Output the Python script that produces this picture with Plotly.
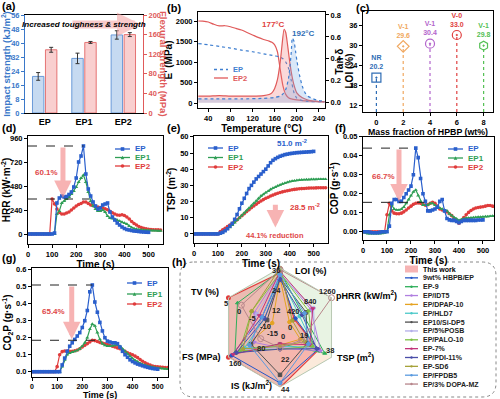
import math
import plotly.graph_objects as go

W, H = 500, 399
def X(p): return p / W
def Y(p): return 1 - p / H

FONT = "Liberation Sans, Arial, Helvetica, sans-serif"
C_EP = "#2a5fcc"
C_EP1 = "#2f9e55"
C_EP2 = "#e03c3c"
ARROW = "rgba(244,140,140,0.65)"

# ---------------- (a) mechanical
samples = ["EP", "EP1", "EP2"]
impact_strength = [20.9, 31.2, 44.6]
impact_err = [2.2, 3.0, 2.4]
flexural_strength = [129, 144, 160]
flexural_err = [5, 2, 4]

# ---------------- (b) DMA
T_storage_EP2 = [22, 30, 40, 50, 60, 70, 80, 90, 100, 110, 120, 130, 140, 150, 155, 160, 165, 170, 175, 180, 185, 190, 200, 210, 220, 230, 240, 250]
storage_EP2 = [2000, 1995, 1975, 1920, 1880, 1885, 1860, 1820, 1780, 1720, 1660, 1600, 1550, 1510, 1480, 1420, 1250, 820, 420, 210, 130, 100, 75, 60, 50, 42, 36, 32]
T_storage_EP = [22, 40, 60, 80, 100, 120, 140, 160, 170, 175, 180, 185, 190, 195, 200, 210, 220, 240, 250]
storage_EP = [1450, 1420, 1380, 1340, 1290, 1250, 1200, 1150, 1120, 1080, 1000, 850, 550, 250, 120, 60, 40, 30, 28]
T_tan_EP2 = [22, 40, 60, 80, 100, 120, 140, 150, 155, 160, 165, 170, 173, 177, 180, 183, 186, 190, 195, 200, 210, 220, 230, 240, 250]
tan_EP2 = [0.06, 0.06, 0.065, 0.06, 0.06, 0.06, 0.065, 0.075, 0.09, 0.13, 0.21, 0.37, 0.51, 0.67, 0.64, 0.54, 0.42, 0.28, 0.16, 0.09, 0.045, 0.025, 0.015, 0.01, 0.008]
T_tan_EP = [22, 60, 100, 140, 160, 170, 175, 180, 185, 188, 190, 192, 195, 198, 200, 205, 210, 215, 220, 230, 240, 250]
tan_EP = [0.035, 0.035, 0.035, 0.04, 0.048, 0.06, 0.08, 0.12, 0.22, 0.35, 0.46, 0.59, 0.56, 0.46, 0.39, 0.25, 0.15, 0.09, 0.06, 0.035, 0.02, 0.015]

# ---------------- (c) LOI / UL-94
hpbp_fraction = [0, 2, 4, 6, 8]
loi_values = [20.2, 29.6, 30.4, 33.0, 29.8]
ul94_rating = ["NR", "V-1", "V-1", "V-0", "V-1"]
loi_colors = ["#2f6db5", "#f0a860", "#b366cc", "#e04040", "#55c055"]
loi_symbols = ["square-open-dot", "diamond-open-dot", "circle-open-dot", "circle-open-dot", "hexagon-open-dot"]

# ---------------- cone calorimeter (10 s sampling)
t_EP = list(range(0, 510, 10))
t_long = list(range(0, 560, 10))

HRR_EP = [0]*11 + [10, 310, 360, 380, 370, 375, 395, 420, 470, 560, 720, 780, 880, 600, 450, 380, 320, 280, 250, 260,
                   290, 300, 310, 220, 170, 140, 110, 90, 70, 55, 45, 40, 35, 30, 28, 25, 22, 20, 18, 17]
HRR_EP1 = [0]*12 + [200, 230, 310, 330, 350, 370, 400, 430, 470, 520, 560, 590, 520, 420, 330, 280, 250, 230, 230, 240,
                    220, 180, 160, 155, 150, 140, 130, 120, 110, 100, 80, 65, 55, 50, 45, 42, 40, 38, 36, 35, 34, 33, 32, 32]
HRR_EP2 = [0]*10 + [350, 300, 250, 215, 200, 200, 210, 220, 240, 260, 280, 295, 305, 320, 320, 305, 290, 282, 276, 270,
                    265, 260, 252, 242, 228, 212, 200, 190, 188, 192, 185, 170, 150, 125, 105, 90, 75, 65, 58, 52,
                    48, 45, 43, 42, 41, 40]

TSP_EP = [0]*11 + [0.5, 1, 2, 3.2, 4.8, 6.5, 9, 12, 15.5, 19, 22, 25, 28, 30, 32, 34, 35.5, 37, 38.5, 40,
                   42, 44, 45.5, 46.5, 47.3, 48, 48.5, 49, 49.3, 49.6, 49.8, 50, 50.2, 50.3, 50.4, 50.5, 50.6, 50.7, 50.8, 51.0]
TSP_EP1 = [0]*12 + [1, 2, 3, 4, 5.5, 7, 8.5, 10, 11.5, 13, 14.5, 16, 17.5, 19, 20.5, 22, 23.5, 24.5, 25.5, 26.5,
                    27.5, 28.3, 29, 29.7, 30.3, 30.9, 31.4, 31.9, 32.3, 32.6, 32.9, 33.1, 33.3, 33.4, 33.5, 33.6,
                    33.6, 33.7, 33.7, 33.7, 33.8, 33.8, 33.8, 33.8]
TSP_EP2 = [0]*11 + [1.5, 2.5, 3.5, 4.5, 5.5, 6.5, 7.5, 8.7, 10, 11.2, 12.5, 13.8, 15, 16.2, 17.3, 18.4, 19.4, 20.3, 21.2, 22,
                    22.7, 23.4, 24, 24.6, 25.1, 25.6, 26, 26.4, 26.7, 27, 27.3, 27.5, 27.7, 27.9, 28, 28.1, 28.2, 28.3,
                    28.35, 28.4, 28.45, 28.5, 28.5, 28.5, 28.5]

COP_EP = [0, 0, 0, -0.0003, -0.0005, -0.0005, -0.0005, -0.0003, 0, 0, 0,
          0.003, 0.015, 0.017, 0.017, 0.016, 0.016, 0.018, 0.02, 0.022, 0.024, 0.03, 0.044, 0.039, 0.028, 0.02, 0.016,
          0.011, 0.011, 0.0115, 0.012, 0.013, 0.016, 0.017, 0.011, 0.007, 0.0063, 0.006, 0.006, 0.0055, 0.0048,
          0.0055, 0.006, 0.006, 0.006, 0.006, 0.006, 0.006, 0.0062, 0.0062, 0.0063]
COP_EP1 = [0, -0.0005, -0.001, -0.001, -0.001, -0.001, -0.001, -0.001, -0.0008, -0.0005, 0,
           0.009, 0.014, 0.012, 0.0115, 0.0115, 0.012, 0.013, 0.015, 0.017, 0.019, 0.021, 0.022, 0.019, 0.016, 0.014,
           0.014, 0.014, 0.015, 0.015, 0.014, 0.013, 0.0125, 0.012, 0.0115, 0.011, 0.0095, 0.0085, 0.0075, 0.0068,
           0.006, 0.0065, 0.007, 0.0072, 0.0073, 0.0074, 0.0075, 0.0076, 0.0077, 0.0078, 0.0079, 0.008, 0.008,
           0.0082, 0.0083, 0.0084]
COP_EP2 = [0]*10 + [0.009, 0.015, 0.011, 0.0098, 0.0095, 0.0095, 0.0098, 0.0105, 0.0115, 0.0125, 0.0135, 0.0145, 0.015,
                    0.0152, 0.015, 0.0145, 0.014, 0.0142, 0.015, 0.0155, 0.015, 0.0135, 0.012, 0.0115, 0.011, 0.0105,
                    0.0095, 0.0085, 0.007, 0.0055, 0.0045, 0.006, 0.0075, 0.009, 0.0102, 0.0112, 0.012, 0.0125,
                    0.0128, 0.013, 0.0132, 0.0135, 0.0138, 0.0138, 0.0135, 0.0132]

CO2P_EP = [0]*12 + [0.04, 0.08, 0.12, 0.15, 0.17, 0.19, 0.21, 0.23, 0.26, 0.3, 0.36, 0.47, 0.51, 0.41, 0.35, 0.29, 0.24,
                    0.2, 0.18, 0.175, 0.17, 0.17, 0.165, 0.145, 0.12, 0.1, 0.085, 0.07, 0.06, 0.052, 0.045, 0.04,
                    0.035, 0.03, 0.026, 0.022, 0.019, 0.017, 0.015]
CO2P_EP1 = [0]*12 + [0.03, 0.07, 0.1, 0.11, 0.115, 0.12, 0.125, 0.135, 0.15, 0.17, 0.2, 0.25, 0.28, 0.27, 0.23, 0.19,
                     0.165, 0.155, 0.15, 0.15, 0.152, 0.155, 0.158, 0.15, 0.135, 0.12, 0.105, 0.09, 0.078, 0.067,
                     0.058, 0.05, 0.044, 0.039, 0.034, 0.03, 0.027, 0.024, 0.022, 0.02, 0.018, 0.017, 0.015, 0.014]
CO2P_EP2 = [0]*10 + [0.03, 0.1, 0.118, 0.122, 0.122, 0.12, 0.12, 0.123, 0.128, 0.135, 0.145, 0.155, 0.165, 0.175,
                     0.185, 0.183, 0.178, 0.172, 0.168, 0.164, 0.16, 0.155, 0.15, 0.145, 0.14, 0.135, 0.128, 0.12,
                     0.112, 0.105, 0.1, 0.092, 0.083, 0.072, 0.062, 0.053, 0.045, 0.039, 0.034, 0.031, 0.029,
                     0.027, 0.026, 0.025, 0.024, 0.023]

# ---------------- (h) radar
radar_axes = ["LOI", "pHRR", "TSP", "IS", "FS", "TV"]
radar_titles = ["LOI (%)", "pHRR (kW/m<sup>2</sup>)", "TSP (m<sup>2</sup>)", "IS (kJ/m<sup>2</sup>)", "FS (MPa)", "TV (%)"]
radar_lo = [0, 0, 0, 0, 0, -15]
radar_hi = [36, 1260, 38, 44, 160, 5]
radar_ticks = [[12, 24, 36], [0, 420, 840, 1260], [0, 19, 38], [22, 44], [80, 160], [-15, -10, -5, 0, 5]]
radar_names = ["This work", "9wt% HBPB/EP", "EP-9", "EP/IDT5", "EP/DPAP-10", "EP/HLD7", "EP10/Si-DP5",
               "EP/5%POSB", "EP/PALO-10", "EP-7%", "EP/PDI-11%", "EP-SD6", "EP/FPDB5", "EP/3% DOPA-MZ"]
radar_colors = ["#e23b3b", "#2456c8", "#2fae5a", "#b07fe0", "#e5a321", "#4cc9c9", "#505050",
                "#b3aee8", "#7cc043", "#c2337a", "#4a4ea8", "#a6a23a", "#5b9be0", "#b7868b"]
radar_symbols = ["circle", "circle", "triangle-up", "triangle-down", "circle", "circle", "square",
                 "circle", "triangle-up", "triangle-down", "diamond", "circle", "diamond", "circle-open"]
radar_values = [
    [33.0, 351, 28.5, 44.5, 160, 5],
    [31.0, 380, 28.0, 41.0, 150, -8],
    [34.0, 560, 33.0, 12.0, 140, 1.5],
    [33.0, 760, 30.0, 15.0, 80, -5],
    [30.0, 230, 15.0, 13.0, 120, -12],
    [31.0, 480, 25.0, 14.0, 110, -9],
    [30.0, 640, 20.0, 35.0, 90, -10],
    [32.0, 820, 26.0, 15.0, 120, -6],
    [33.0, 700, 24.0, 16.0, 125, -4],
    [34.0, 800, 22.0, 12.0, 145, -7],
    [29.0, 540, 27.0, 16.0, 135, -9],
    [36.0, 300, 18.0, 14.0, 115, -4],
    [32.0, 600, 21.0, 41.0, 95, -8],
    [35.0, 1260, 16.0, 15.0, 60, 0],
]

fig = go.Figure()
shapes = []
ann = []

def tfont(size=7.5, color="black"):
    return dict(family=FONT, size=size, color=color, weight="bold")

def pann(xp, yp, text, font, xanchor="center", **kw):
    d = dict(x=X(xp), y=Y(yp), xref="paper", yref="paper", text=text, showarrow=False, font=font,
             xanchor=xanchor, yanchor="middle")
    d.update(kw)
    ann.append(d)

def axis(**kw):
    d = dict(showline=True, linecolor="black", linewidth=1, mirror=True, ticks="outside", ticklen=3,
             tickwidth=1, tickcolor="black", showgrid=False, zeroline=False, tickfont=tfont(),
             automargin=False)
    d.update(kw)
    return d

def title(text, size=10, color="black", standoff=None):
    t = dict(text=text, font=tfont(size, color))
    if standoff is not None:
        t["standoff"] = standoff
    return t

# ---------- (a)
fig.add_trace(go.Bar(x=samples, y=impact_strength, xaxis="x", yaxis="y", offset=-0.31, width=0.29,
                     marker=dict(color="#c6daf1", line=dict(color="#6a9ad8", width=1)),
                     error_y=dict(type="data", array=impact_err, color="#333", thickness=1, width=2),
                     showlegend=False))
fig.add_trace(go.Bar(x=samples, y=flexural_strength, xaxis="x", yaxis="y2", offset=0.02, width=0.29,
                     marker=dict(color="#f9cfcf", line=dict(color="#e57373", width=1)),
                     error_y=dict(type="data", array=flexural_err, color="#333", thickness=1, width=2),
                     showlegend=False))
pann(164, 64, "Flexural strength (MPa)", tfont(9.5, "#e05a5a"), textangle=90)

# ---------- (b)
fig.add_trace(go.Scatter(x=T_tan_EP2, y=tan_EP2, xaxis="x3", yaxis="y4", mode="lines",
                         line=dict(color="#e05a5a", width=1.2, shape="spline", smoothing=0.6),
                         fill="tozeroy", fillcolor="rgba(240,120,120,0.28)", showlegend=False))
fig.add_trace(go.Scatter(x=T_tan_EP, y=tan_EP, xaxis="x3", yaxis="y4", mode="lines",
                         line=dict(color="#3f7fd0", width=1.2, dash="dot", shape="spline", smoothing=0.6),
                         fill="tozeroy", fillcolor="rgba(120,170,230,0.28)", showlegend=False))
fig.add_trace(go.Scatter(x=T_storage_EP2, y=storage_EP2, xaxis="x3", yaxis="y3", mode="lines",
                         line=dict(color="#e05a5a", width=1.2, shape="spline", smoothing=0.6), showlegend=False))
fig.add_trace(go.Scatter(x=T_storage_EP, y=storage_EP, xaxis="x3", yaxis="y3", mode="lines",
                         line=dict(color="#3f7fd0", width=1.2, dash="dot", shape="spline", smoothing=0.6),
                         showlegend=False))
ann.append(dict(x=157, y=0.71, xref="x3", yref="y4", text="177°C", showarrow=False, font=tfont(8, "#e04040")))
ann.append(dict(x=212, y=0.635, xref="x3", yref="y4", text="192°C", showarrow=False, font=tfont(8, "#2f6db5")))
pann(338.5, 62, "Tan δ", tfont(10), textangle=-90)

# ---------- (c)
for xv, yv, col, sym, rat in zip(hpbp_fraction, loi_values, loi_colors, loi_symbols, ul94_rating):
    fig.add_trace(go.Scatter(x=[xv, xv], y=[9.9, yv], xaxis="x5", yaxis="y5", mode="lines",
                             line=dict(color=col, width=1.2, dash="dot"), showlegend=False))
    fig.add_trace(go.Scatter(x=[xv], y=[yv], xaxis="x5", yaxis="y5", mode="markers+text",
                             marker=dict(symbol=sym, size=9, color=col, line=dict(width=1.2, color=col)),
                             text=[f"{rat}<br>{yv:.1f}"], textposition="top center",
                             textfont=tfont(7, col), showlegend=False))
pann(348.5, 71, "LOI (%)", tfont(10), textangle=-90)

# ---------- cone panels
def series(xa, ya, tx, ys, col, sym):
    fig.add_trace(go.Scatter(x=tx, y=ys, xaxis=xa, yaxis=ya, mode="lines+markers",
                             line=dict(color=col, width=1.2),
                             marker=dict(symbol=sym, size=3.6, color=col), showlegend=False))

for (xa, ya, e, e1, e2) in [("x6", "y6", HRR_EP, HRR_EP1, HRR_EP2),
                            ("x7", "y7", TSP_EP, TSP_EP1, TSP_EP2),
                            ("x8", "y8", COP_EP, COP_EP1, COP_EP2),
                            ("x9", "y9", CO2P_EP, CO2P_EP1, CO2P_EP2)]:
    series(xa, ya, t_long, e2, C_EP2, "circle")
    series(xa, ya, t_long, e1, C_EP1, "triangle-up")
    series(xa, ya, t_EP, e, C_EP, "square")

def peak_guides(xa, ya, ep, ep2, xend2, xarrow, pct, xt, yt):
    m1 = max(ep); t1 = t_EP[ep.index(m1)]
    m2 = max(ep2)
    for yv, xe in [(m1, t1), (m2, xend2)]:
        shapes.append(dict(type="line", xref=xa, yref=ya, x0=0, x1=xe, y0=yv, y1=yv,
                           line=dict(color="#222", width=1, dash="dash")))
    ann.append(dict(x=xarrow, y=m2 * 1.03, ax=xarrow, ay=m1, xref=xa, yref=ya, axref=xa, ayref=ya,
                    text="", showarrow=True, arrowhead=2, arrowsize=0.7, arrowwidth=5, arrowcolor=ARROW))
    ann.append(dict(x=xt, y=yt, xref=xa, yref=ya, text=pct, showarrow=False, font=tfont(8, "#e04848")))

peak_guides("x6", "y6", HRR_EP, HRR_EP2, 255, 145, "60.1%", 75, 620)
peak_guides("x8", "y8", COP_EP, COP_EP2, 255, 150, "66.7%", 85, 0.029)
peak_guides("x9", "y9", CO2P_EP, CO2P_EP2, 255, 158, "65.4%", 85, 0.355)

ann.append(dict(x=340, y=4, ax=340, ay=19, xref="x7", yref="y7", axref="x7", ayref="y7", text="",
                showarrow=True, arrowhead=2, arrowsize=0.7, arrowwidth=5, arrowcolor=ARROW))
ann.append(dict(x=340, y=-1.2, xref="x7", yref="y7", text="44.1% reduction", showarrow=False, font=tfont(7.5, "#e04848")))
ann.append(dict(x=410, y=56, xref="x7", yref="y7", text="51.0 m<sup>-2</sup>", showarrow=False, font=tfont(8, C_EP)))
ann.append(dict(x=462, y=16.5, xref="x7", yref="y7", text="28.5 m<sup>-2</sup>", showarrow=False, font=tfont(8, C_EP2)))
pann(100, 395, "Time (s)", tfont(9))

# ---------- legend keys (drawn manually)
def key(x0, x1, y, color, symbol=None, dash="solid", s=1.8, label=None, tcolor=None, fs=7.5):
    shapes.append(dict(type="line", xref="paper", yref="paper", x0=X(x0), x1=X(x1), y0=Y(y), y1=Y(y),
                       line=dict(color=color, width=1.3, dash=dash)))
    xc = (x0 + x1) / 2
    if symbol == "square":
        shapes.append(dict(type="rect", xref="paper", yref="paper", x0=X(xc - s), x1=X(xc + s), y0=Y(y + s), y1=Y(y - s),
                           fillcolor=color, line=dict(width=0)))
    elif symbol == "circle":
        shapes.append(dict(type="circle", xref="paper", yref="paper", x0=X(xc - s), x1=X(xc + s), y0=Y(y + s), y1=Y(y - s),
                           fillcolor=color, line=dict(width=0)))
    elif symbol == "triangle":
        shapes.append(dict(type="path", xref="paper", yref="paper",
                           path=f"M {X(xc - s)} {Y(y + s)} L {X(xc + s)} {Y(y + s)} L {X(xc)} {Y(y - s)} Z",
                           fillcolor=color, line=dict(width=0)))
    if label:
        pann(x1 + 3, y, label, tfont(fs, tcolor or color), xanchor="left")

key(214, 228, 69.5, "#3f7fd0", dash="dot", label="EP", fs=7.5)
key(214, 228, 78, "#e05a5a", label="EP2", fs=7.5)
for (x0, ys) in [(115, (149, 157.5, 166)), (208, (148, 157.5, 167)), (448, (149, 158, 167)), (127, (283, 294, 304))]:
    key(x0, x0 + 15, ys[0], C_EP, "square", label="EP", fs=8)
    key(x0, x0 + 15, ys[1], C_EP1, "triangle", label="EP1", fs=8)
    key(x0, x0 + 15, ys[2], C_EP2, "circle", label="EP2", fs=8)

# ---------- (a) annotation
ann.append(dict(x=X(141), y=Y(24.5), ax=-70, ay=0, text="", showarrow=True, arrowhead=2, arrowsize=0.6,
                arrowwidth=8, arrowcolor="rgba(244,160,160,0.55)", xref="paper", yref="paper"))
pann(84, 24.5, "<i>Increased toughness &amp; strength</i>", tfont(8.1))

# ---------- (h) radar
CX, CY, R = 280, 327.5, 59.5
theta_closed = radar_axes + [radar_axes[0]]
def norm(vals):
    r = [(v - lo) / (hi - lo) for v, lo, hi in zip(vals, radar_lo, radar_hi)]
    return r + [r[0]]

fig.add_trace(go.Scatterpolar(r=[1] * 7, theta=theta_closed, mode="lines", fill="toself",
                              fillcolor="#e8f3e3", line=dict(color="#c8d8c0", width=1),
                              subplot="polar", showlegend=False, hoverinfo="skip"))
fig.add_trace(go.Scatterpolar(r=[1, 1, 0, 1], theta=["TSP", "IS", "LOI", "TSP"], mode="lines", fill="toself",
                              fillcolor="#fbeadb", line=dict(width=0), subplot="polar", showlegend=False,
                              hoverinfo="skip"))
for i, (name, col, sym, vals) in enumerate(zip(radar_names, radar_colors, radar_symbols, radar_values)):
    if i == 0:
        fig.add_trace(go.Scatterpolar(r=norm(vals), theta=theta_closed, mode="lines+markers", fill="toself",
                                      fillcolor="rgba(240,110,110,0.42)", line=dict(color=col, width=1.2),
                                      marker=dict(size=5, color=col, symbol="circle"), subplot="polar",
                                      showlegend=False))
    else:
        msize = 6 if sym == "circle-open" else 3.5
        fig.add_trace(go.Scatterpolar(r=norm(vals), theta=theta_closed, mode="lines+markers",
                                      line=dict(color=col, width=1),
                                      marker=dict(size=msize, color=col, symbol=sym, line=dict(color=col, width=1)),
                                      subplot="polar", showlegend=False))

tick_offsets = [(-4, 2.5), (-4, -6), (-2, -7), (5, 2), (7, 6), (-2, 6)]
for i, (ticks, lo, hi, off) in enumerate(zip(radar_ticks, radar_lo, radar_hi, tick_offsets)):
    ang = math.radians(90 - 60 * i)
    for tv in ticks:
        f = (tv - lo) / (hi - lo)
        dx, dy = off
        if f == 0:
            dx, dy = {1: (10, 0), 2: (3, 9), 5: (-8, 6)}.get(i, off)
        xp = CX + f * R * math.cos(ang) + dx
        yp = CY - f * R * math.sin(ang) + dy
        pann(xp, yp, str(tv), tfont(7.5, "#222"))

radar_title_pos = [(311, 271), (366, 295), (355, 357), (251, 385), (201, 357), (205, 292)]
for t, (xp, yp) in zip(radar_titles, radar_title_pos):
    pann(xp, yp, t, tfont(9))

for i, (name, col, sym) in enumerate(zip(radar_names, radar_colors, radar_symbols)):
    yy = 269 + i * 8.85
    if i == 0:
        shapes.append(dict(type="rect", xref="paper", yref="paper", x0=X(405), x1=X(418), y0=Y(272.5), y1=Y(265.5),
                           fillcolor="rgba(240,130,130,0.6)", line=dict(width=0)))
        pann(421, yy, name, tfont(7), xanchor="left")
    else:
        key(405, 418, yy, col, "circle", s=1.2, label=name, tcolor="#222", fs=7)

# dashed rounded frame of (h)
L, T, Rr, B, rc = X(180), Y(262), X(496), Y(397), 14
dx, dy = rc / W, rc / H
shapes.append(dict(type="path", xref="paper", yref="paper",
                   path=(f"M {L+dx} {T} L {Rr-dx} {T} Q {Rr} {T} {Rr} {T-dy} L {Rr} {B+dy} Q {Rr} {B} {Rr-dx} {B} "
                         f"L {L+dx} {B} Q {L} {B} {L} {B+dy} L {L} {T-dy} Q {L} {T} {L+dx} {T} Z"),
                   line=dict(color="#888", width=1, dash="dot")))

# ---------- panel letters
for lab, xp, yp in [("(a)", 9, 6), ("(b)", 173.5, 7.5), ("(c)", 363, 7.5), ("(d)", 9, 128), ("(e)", 173.5, 128),
                    ("(f)", 340, 128), ("(g)", 9, 257.5), ("(h)", 178.5, 262)]:
    pann(xp, yp, lab, tfont(11))

time_ticks = [0, 100, 200, 300, 400, 500]
fig.update_layout(
    width=W, height=H, margin=dict(l=0, r=0, t=0, b=0), paper_bgcolor="white", plot_bgcolor="rgba(0,0,0,0)",
    font=dict(family=FONT, color="black"), showlegend=False, barmode="overlay",
    # (a)
    xaxis=axis(domain=[X(25), X(143)], anchor="y", range=[-0.5, 2.5], ticks="", tickfont=tfont(9)),
    yaxis=axis(domain=[Y(113), Y(15)], anchor="x", range=[0, 56], dtick=8, mirror=False, linecolor="#3a78c9",
               tickcolor="#3a78c9", tickfont=tfont(7.5, "#3a78c9"),
               title=title("Impact strength (kJ/m<sup>2</sup>)", 9.5, "#3a78c9", standoff=2)),
    yaxis2=axis(overlaying="y", side="right", anchor="x", range=[0, 200], dtick=40, mirror=False,
                linecolor="#e05a5a", tickcolor="#e05a5a", tickfont=tfont(7.5, "#e05a5a")),
    # (b)
    xaxis3=axis(domain=[X(198), X(325)], anchor="y3", range=[21.4, 251], tickvals=[40, 80, 120, 160, 200, 240],
                title=title("Temperature (°C)", standoff=1)),
    yaxis3=axis(domain=[Y(108), Y(12)], anchor="x3", range=[-122, 2220], tickvals=[0, 500, 1000, 1500, 2000],
                mirror=False, title=title("E' (MPa)", standoff=1)),
    yaxis4=axis(overlaying="y3", side="right", anchor="x3", range=[-0.048, 0.827], tickvals=[0, 0.2, 0.4, 0.6, 0.8],
                tickformat=".1f", mirror=False),
    # (c)
    xaxis5=axis(domain=[X(363), X(493)], anchor="y5", range=[-1, 8.7], tickvals=[0, 2, 4, 6, 8],
                title=title("Mass fraction of HPBP (wt%)", 8.8, standoff=0)),
    yaxis5=axis(domain=[Y(112), Y(11)], anchor="x5", range=[9.9, 40.2], tickvals=[12, 18, 24, 30, 36]),
    # (d)
    xaxis6=axis(domain=[X(28), X(163)], anchor="y6", range=[0, 560], tickvals=time_ticks, title=title("Time (s)", standoff=0)),
    yaxis6=axis(domain=[Y(244), Y(136)], anchor="x6", range=[-100, 980], tickvals=[0, 240, 480, 720, 960],
                title=title("HRR (kW·m<sup>-2</sup>)", standoff=2)),
    # (e)
    xaxis7=axis(domain=[X(194), X(328)], anchor="y7", range=[0, 560], tickvals=time_ticks, title=title("Time (s)", standoff=0)),
    yaxis7=axis(domain=[Y(243), Y(136)], anchor="x7", range=[-5.6, 60.5], dtick=10,
                title=title("TSP (m<sup>-2</sup>)", standoff=2)),
    # (f)
    xaxis8=axis(domain=[X(363), X(494)], anchor="y8", range=[0, 546], tickvals=time_ticks, title=title("Time (s)", standoff=0)),
    yaxis8=axis(domain=[Y(240), Y(136.5)], anchor="x8", range=[-0.0043, 0.0501], dtick=0.01, tickformat=".2f",
                title=title("COP (g·s<sup>-1</sup>)", standoff=2)),
    # (g)
    xaxis9=axis(domain=[X(32), X(168)], anchor="y9", range=[0, 541], tickvals=time_ticks, tickfont=tfont(7)),
    yaxis9=axis(domain=[Y(377), Y(268)], anchor="x9", range=[-0.031, 0.61], dtick=0.1, tickformat=".1f",
                title=title("CO<sub>2</sub>P (g·s<sup>-1</sup>)", standoff=2)),
    polar=dict(domain=dict(x=[X(CX - R), X(CX + R)], y=[Y(CY + R), Y(CY - R)]), bgcolor="rgba(0,0,0,0)",
               gridshape="linear",
               angularaxis=dict(type="category", categoryarray=radar_axes, rotation=90, direction="clockwise",
                                showticklabels=False, ticks="", showline=True, linecolor="#b9c9b3", linewidth=1,
                                showgrid=True, gridcolor="#b0b0b0", gridwidth=0.8),
               radialaxis=dict(range=[0, 1], showticklabels=False, ticks="", showline=False, showgrid=False)),
    shapes=shapes, annotations=ann,
)

fig.write_html("out.html", config={"displayModeBar": False},
               post_script="document.body.style.margin='0';document.body.style.overflow='hidden';")
